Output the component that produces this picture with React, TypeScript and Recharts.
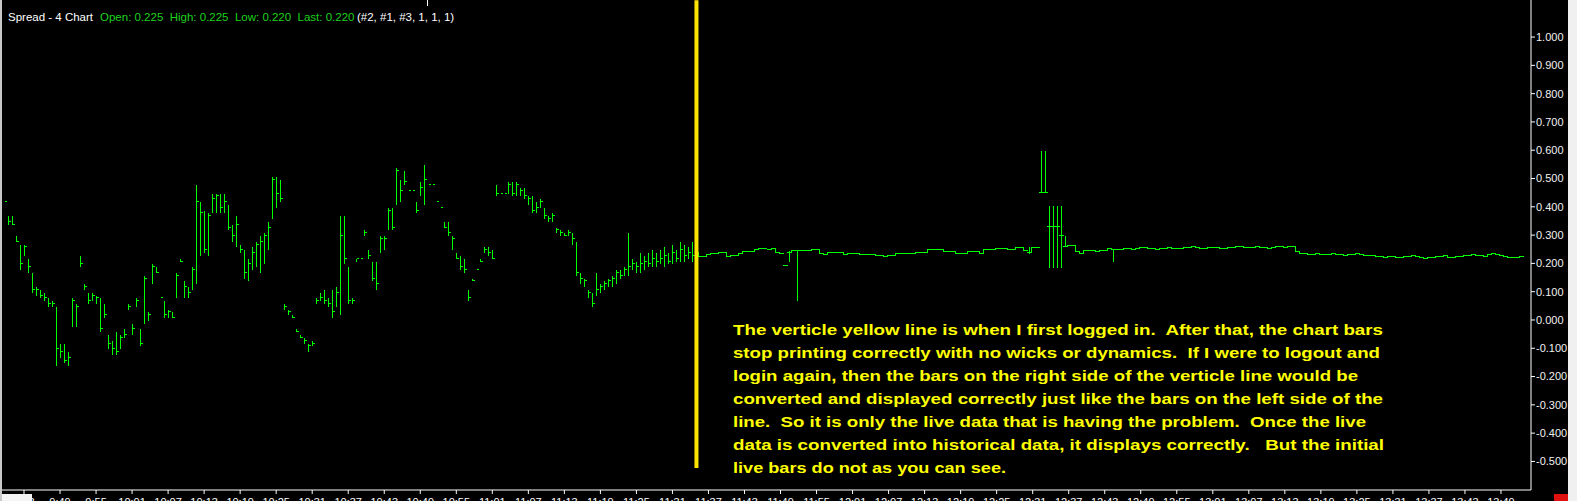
import React from 'react';
import { ComposedChart, Bar, XAxis, YAxis, ReferenceLine } from 'recharts';

// historical bars (left of the login line)
const histHigh = [
  0.42, 0.37, 0.37, 0.3, 0.27, 0.27, 0.22, 0.17, 0.12, 0.11,
  0.1, 0.08, 0.07, 0.05, -0.08, -0.08, -0.11, 0.08, 0.06, 0.23,
  0.13, 0.1, 0.1, 0.09, 0.08, 0.06, -0.05, -0.07, -0.04, -0.05,
  -0.03, 0.06, -0.01, 0.08, -0.03, 0.16, 0.03, 0.2, 0.19, 0.08,
  0.07, 0.04, 0.03, 0.17, 0.22, 0.14, 0.12, 0.19, 0.48, 0.42,
  0.39, 0.38, 0.45, 0.45, 0.45, 0.45, 0.41, 0.34, 0.37, 0.27,
  0.25, 0.22, 0.26, 0.28, 0.3, 0.31, 0.35, 0.51, 0.51, 0.5,
  0.06, 0.04, 0.02, -0.03, -0.05, -0.06, -0.08, -0.07, 0.08, 0.1,
  0.11, 0.08, 0.11, 0.12, 0.37, 0.37, 0.19, 0.08, 0.22, 0.22,
  0.32, 0.25, 0.21, 0.21, 0.3, 0.3, 0.4, 0.4, 0.54, 0.5,
  0.53, 0.46, 0.46, 0.42, 0.49, 0.55, 0.48, 0.48, 0.42, 0.4,
  0.35, 0.35, 0.3, 0.24, 0.23, 0.22, 0.11, 0.15, 0.18, 0.22,
  0.26, 0.26, 0.25, 0.48, 0.45, 0.45, 0.49, 0.49, 0.49, 0.47,
  0.47, 0.44, 0.44, 0.42, 0.43, 0.4, 0.37, 0.38, 0.33, 0.32,
  0.31, 0.32, 0.31, 0.28, 0.17, 0.15, 0.11, 0.1, 0.17, 0.13,
  0.14, 0.15, 0.16, 0.18, 0.18, 0.19, 0.31, 0.22, 0.21, 0.24,
  0.23, 0.24, 0.25, 0.24, 0.25, 0.26, 0.24, 0.27, 0.25, 0.28,
  0.27, 0.26, 0.28, 0.27,
];
const histLow = [
  0.42, 0.34, 0.34, 0.28, 0.18, 0.23, 0.17, 0.1, 0.09, 0.08,
  0.07, 0.05, 0.05, -0.16, -0.13, -0.15, -0.16, -0.02, -0.02, 0.19,
  0.11, 0.06, 0.07, 0.06, -0.04, 0.01, -0.1, -0.12, -0.12, -0.1,
  -0.06, 0.04, -0.05, 0.05, -0.09, -0.01, 0.0, 0.13, 0.17, 0.08,
  0.01, 0.01, 0.01, 0.08, 0.21, 0.08, 0.08, 0.11, 0.13, 0.23,
  0.24, 0.23, 0.38, 0.38, 0.38, 0.38, 0.32, 0.28, 0.26, 0.24,
  0.15, 0.14, 0.18, 0.19, 0.17, 0.2, 0.25, 0.36, 0.4, 0.42,
  0.04, 0.02, 0.01, -0.04, -0.06, -0.08, -0.11, -0.09, 0.06, 0.07,
  0.06, 0.05, 0.01, 0.05, 0.02, 0.2, 0.06, 0.06, 0.21, 0.22,
  0.3, 0.22, 0.14, 0.11, 0.24, 0.25, 0.32, 0.32, 0.41, 0.42,
  0.48, 0.46, 0.46, 0.38, 0.44, 0.41, 0.48, 0.48, 0.42, 0.4,
  0.33, 0.3, 0.25, 0.22, 0.18, 0.17, 0.07, 0.14, 0.18, 0.21,
  0.24, 0.23, 0.22, 0.44, 0.45, 0.45, 0.45, 0.44, 0.44, 0.44,
  0.43, 0.41, 0.38, 0.38, 0.4, 0.36, 0.35, 0.35, 0.31, 0.3,
  0.3, 0.3, 0.27, 0.16, 0.13, 0.12, 0.08, 0.05, 0.09, 0.1,
  0.11, 0.12, 0.12, 0.13, 0.15, 0.16, 0.16, 0.18, 0.17, 0.17,
  0.18, 0.19, 0.19, 0.19, 0.2, 0.19, 0.2, 0.2, 0.21, 0.21,
  0.21, 0.22, 0.21, 0.2,
];
const histClose = [
  0.42, 0.35, 0.34, 0.28, 0.2, 0.26, 0.19, 0.11, 0.11, 0.09,
  0.08, 0.06, 0.06, -0.1, -0.11, -0.14, -0.13, 0.07, 0.05, 0.2,
  0.12, 0.07, 0.09, 0.08, -0.03, 0.02, -0.08, -0.1, -0.11, -0.06,
  -0.05, 0.05, -0.03, 0.07, -0.08, 0.15, 0.02, 0.19, 0.17, 0.08,
  0.02, 0.03, 0.01, 0.16, 0.21, 0.12, 0.1, 0.18, 0.42, 0.38,
  0.25, 0.37, 0.43, 0.44, 0.4, 0.42, 0.33, 0.3, 0.34, 0.25,
  0.17, 0.2, 0.24, 0.27, 0.28, 0.3, 0.33, 0.5, 0.45, 0.43,
  0.05, 0.03, 0.01, -0.04, -0.06, -0.07, -0.09, -0.08, 0.07, 0.08,
  0.07, 0.06, 0.03, 0.1, 0.3, 0.22, 0.07, 0.07, 0.22, 0.22,
  0.31, 0.23, 0.15, 0.13, 0.29, 0.29, 0.39, 0.33, 0.53, 0.46,
  0.49, 0.46, 0.46, 0.39, 0.47, 0.5, 0.48, 0.48, 0.42, 0.4,
  0.33, 0.31, 0.29, 0.22, 0.19, 0.18, 0.08, 0.14, 0.18, 0.21,
  0.25, 0.24, 0.22, 0.45, 0.45, 0.45, 0.48, 0.45, 0.48, 0.46,
  0.44, 0.43, 0.39, 0.4, 0.42, 0.37, 0.36, 0.37, 0.32, 0.31,
  0.3, 0.31, 0.29, 0.17, 0.15, 0.14, 0.1, 0.06, 0.11, 0.12,
  0.13, 0.14, 0.15, 0.17, 0.16, 0.18, 0.19, 0.2, 0.19, 0.2,
  0.21, 0.2, 0.22, 0.21, 0.22, 0.23, 0.21, 0.24, 0.22, 0.25,
  0.23, 0.24, 0.23, 0.24,
];

// live bars (right of the login line) - flat, close only
const liveClose = [
  0.226, 0.226, 0.234, 0.238, 0.238, 0.242, 0.242, 0.226, 0.23, 0.23,
  0.236, 0.245, 0.245, 0.245, 0.25, 0.255, 0.255, 0.252, 0.255, 0.24,
  0.236, 0.195, 0.24, 0.248, 0.248, 0.248, 0.248, 0.248, 0.25, 0.25,
  0.238, 0.234, 0.24, 0.24, 0.242, 0.242, 0.234, 0.236, 0.236, 0.236,
  0.234, 0.234, 0.234, 0.234, 0.228, 0.228, 0.226, 0.228, 0.228, 0.236,
  0.236, 0.236, 0.236, 0.236, 0.242, 0.242, 0.242, 0.25, 0.25, 0.25,
  0.25, 0.245, 0.245, 0.245, 0.238, 0.238, 0.238, 0.245, 0.245, 0.245,
  0.238, 0.25, 0.25, 0.25, 0.255, 0.255, 0.255, 0.25, 0.25, 0.258,
  0.258, 0.248, 0.24, 0.258, 0.258, 0.452, 0.452, 0.332, 0.332, 0.332,
  0.3, 0.261, 0.266, 0.266, 0.245, 0.238, 0.248, 0.248, 0.248, 0.245,
  0.248, 0.248, 0.255, 0.25, 0.25,
  0.252, 0.255, 0.255, 0.252, 0.255, 0.258, 0.258, 0.255, 0.255, 0.252,
  0.255, 0.255, 0.258, 0.255, 0.255, 0.255, 0.258, 0.258, 0.26, 0.258,
  0.255, 0.255, 0.258, 0.258, 0.258, 0.255, 0.255, 0.258, 0.258, 0.26,
  0.26, 0.258, 0.258, 0.258, 0.26, 0.258, 0.258, 0.255, 0.258, 0.26,
  0.26, 0.258, 0.26, 0.26,
  0.245, 0.238,
  0.236, 0.233, 0.233, 0.236, 0.233, 0.233, 0.233, 0.236, 0.233, 0.233,
  0.23, 0.233, 0.233, 0.236, 0.233, 0.23, 0.23,
  0.228, 0.226, 0.226, 0.224, 0.226, 0.226, 0.224, 0.224, 0.226, 0.226,
  0.228, 0.226, 0.224, 0.22, 0.222, 0.224, 0.226, 0.226, 0.228, 0.224,
  0.222, 0.226, 0.226, 0.228, 0.23, 0.232, 0.23, 0.228, 0.226, 0.232,
  0.235, 0.232, 0.228, 0.226, 0.222, 0.224, 0.222, 0.225,
];

// live bars that do have a range (index into liveClose)
const liveWicks = [
  { bar: 21, high: 0.195, low: 0.195 },
  { bar: 22, high: 0.248, low: 0.21 },
  { bar: 24, high: 0.248, low: 0.07 },
  { bar: 82, high: 0.26, low: 0.236 },
  { bar: 85, high: 0.6, low: 0.452 },
  { bar: 86, high: 0.6, low: 0.452 },
  { bar: 87, high: 0.407, low: 0.186 },
  { bar: 88, high: 0.407, low: 0.186 },
  { bar: 89, high: 0.407, low: 0.186 },
  { bar: 90, high: 0.407, low: 0.186 },
  { bar: 91, high: 0.3, low: 0.26 },
  { bar: 103, high: 0.255, low: 0.21 },
];

const emptyBarsAtEnd = 2;

const priceTicks = [1.0, 0.9, 0.8, 0.7, 0.6, 0.5, 0.4, 0.3, 0.2, 0.1, 0.0, -0.1, -0.2, -0.3, -0.4, -0.5];

const timeLabels = [
  '9:43', '9:49', '9:55', '10:01', '10:07', '10:13', '10:19', '10:25', '10:31', '10:37',
  '10:43', '10:49', '10:55', '11:01', '11:07', '11:13', '11:19', '11:25', '11:31', '11:37',
  '11:43', '11:49', '11:55', '12:01', '12:07', '12:13', '12:19', '12:25', '12:31', '12:37',
  '12:43', '12:49', '12:55', '13:01', '13:07', '13:13', '13:19', '13:25', '13:31', '13:37',
  '13:43', '13:49',
];

const noteLines = [
  'The verticle yellow line is when I first logged in.  After that, the chart bars',
  'stop printing correctly with no wicks or dynamics.  If I were to logout and',
  'login again, then the bars on the right side of the verticle line would be',
  'converted and displayed correctly just like the bars on the left side of the',
  'line.  So it is only the live data that is having the problem.  Once the live',
  'data is converted into historical data, it displays correctly.   But the initial',
  'live bars do not as you can see.',
];
const noteWidths = [650, 647, 625, 650, 633, 651, 273];

const GREEN = '#00ff00';
const YELLOW = '#ffe400';

type Row = {
  i: number;
  range: [number, number] | null;
  close?: number;
  open?: number;
  kind?: 'hist' | 'live' | 'wick';
};

const rows: Row[] = [];
histHigh.forEach((h, i) => {
  rows.push({ i, range: [histLow[i], h], close: histClose[i], kind: 'hist' });
});
const loginBar = histHigh.length - 1;
liveClose.forEach((c, j) => {
  const prev = j === 0 ? histClose[histClose.length - 1] : liveClose[j - 1];
  const wick = liveWicks.find((w) => w.bar === j);
  const i = histHigh.length + j;
  if (wick) {
    rows.push({ i, range: [wick.low, wick.high], close: c, kind: 'wick' });
  } else {
    rows.push({ i, range: [Math.min(prev, c), Math.max(prev, c)], close: c, open: prev, kind: 'live' });
  }
});
for (let k = 0; k < emptyBarsAtEnd; k++) rows.push({ i: rows.length, range: null });

const tickBars = timeLabels.map((_, k) => 5 + 9 * k);

function OhlcShape(props: any) {
  const { x, y, width, height, payload } = props;
  if (!payload || !payload.range) return null;
  const [lo, hi] = payload.range;
  const top = Math.min(y, y + height);
  const bottom = Math.max(y, y + height);
  const pix = (v: number) => (hi === lo ? top : top + ((hi - v) / (hi - lo)) * (bottom - top));
  const cx = Math.round(x + width / 2) + 0.5;
  const left = Math.round(x);
  const right = Math.round(x + width);
  const cy = Math.round(pix(payload.close)) + 0.5;
  const common = { stroke: GREEN, strokeWidth: 1, shapeRendering: 'crispEdges' as const };

  if (payload.kind === 'live') {
    const oy = Math.round(pix(payload.open)) + 0.5;
    return (
      <g>
        {oy !== cy && <line x1={left + 0.5} x2={left + 0.5} y1={oy} y2={cy} {...common} />}
        <line x1={left} x2={right + 0.5} y1={cy} y2={cy} {...common} />
      </g>
    );
  }
  if (payload.kind === 'wick') {
    return (
      <g>
        <line x1={cx} x2={cx} y1={Math.round(top) + 0.5} y2={Math.round(bottom) + 0.5} {...common} />
        <line x1={left} x2={right + 0.5} y1={cy} y2={cy} {...common} />
      </g>
    );
  }
  return (
    <g>
      <line x1={cx} x2={cx} y1={Math.round(top) + 0.5} y2={Math.round(bottom) + 0.5} {...common} />
      <line x1={cx} x2={cx + 2} y1={cy} y2={cy} {...common} />
    </g>
  );
}

export default function App() {
  const font = '"Liberation Sans", Arial, sans-serif';
  return (
    <div style={{ position: 'absolute', left: 0, top: 0, width: 1577, height: 501, background: '#000', overflow: 'hidden' }}>
      <ComposedChart
        width={1568}
        height={501}
        data={rows}
        margin={{ top: 0, right: 0, left: 2, bottom: 0 }}
        barCategoryGap={0}
        barGap={0}
      >
        <XAxis
          dataKey="i"
          ticks={tickBars}
          interval={0}
          height={11}
          axisLine={{ stroke: '#fff' }}
          tickLine={{ stroke: '#fff' }}
          tickSize={4}
          tickMargin={4}
          tick={{ fill: '#fff', fontSize: 11, fontFamily: font }}
          tickFormatter={(v: number) => timeLabels[tickBars.indexOf(v)] ?? ''}
        />
        <YAxis
          orientation="right"
          domain={[-0.601, 1.131]}
          ticks={priceTicks}
          interval={0}
          width={37}
          axisLine={{ stroke: '#fff' }}
          tickLine={{ stroke: '#fff' }}
          tickSize={4}
          tickMargin={1}
          tick={{ fill: '#f0f0f0', fontSize: 11, fontFamily: font, textAnchor: 'start' }}
          tickFormatter={(v: number) => v.toFixed(3)}
          allowDataOverflow
        />
        <Bar dataKey="range" shape={<OhlcShape />} isAnimationActive={false} />
        <ReferenceLine
          segment={[
            { x: loginBar, y: 1.13 },
            { x: loginBar, y: -0.5235 },
          ]}
          stroke={YELLOW}
          strokeWidth={4}
        />
      </ComposedChart>

      <svg
        width={1577}
        height={501}
        style={{ position: 'absolute', left: 0, top: 0, pointerEvents: 'none' }}
      >
        <rect x={0} y={0} width={2} height={501} fill="#c8c8c8" />
        <rect x={1568} y={0} width={9} height={501} fill="#f0f0f0" />
        <rect x={2} y={494} width={30} height={7} fill="#f4f4f4" />
        <rect x={1554} y={494} width={14} height={7} fill="#e01010" />
        <line x1={427.5} x2={427.5} y1={0} y2={6} stroke="#fff" />
        <g fontFamily={font} fontSize={11.5}>
          <text x={8} y={21} fill="#ffffff">Spread - 4 Chart</text>
          <text x={100} y={21} fill="#1ed21e" xmlSpace="preserve">
            {'Open: 0.225  High: 0.225  Low: 0.220  Last: 0.220'}
          </text>
          <text x={357} y={21} fill="#ffffff">(#2, #1, #3, 1, 1, 1)</text>
        </g>
        <g fontFamily={font} fontSize={15} fontWeight="bold" fill="#ffff00">
          {noteLines.map((line, k) => (
            <text
              key={k}
              x={733}
              y={335 + 23 * k}
              textLength={noteWidths[k]}
              lengthAdjust="spacingAndGlyphs"
              xmlSpace="preserve"
            >
              {line}
            </text>
          ))}
        </g>
      </svg>
    </div>
  );
}
